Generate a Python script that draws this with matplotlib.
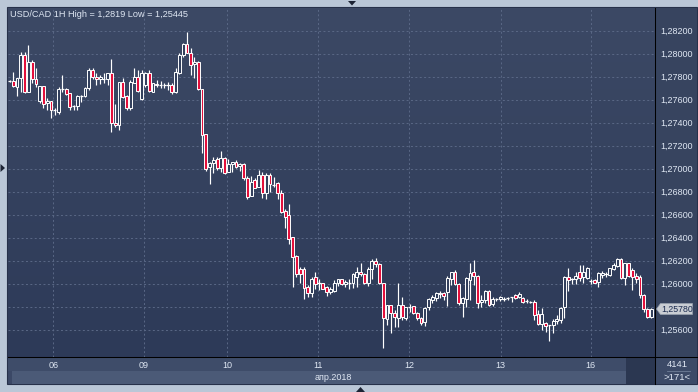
import numpy as np
import matplotlib
matplotlib.use('Agg')
import matplotlib.pyplot as plt
from matplotlib.patches import Rectangle, Polygon
from matplotlib.lines import Line2D
from matplotlib.colors import LinearSegmentedColormap
from matplotlib.transforms import blended_transform_factory

plt.rcParams['font.family'] = ['Liberation Sans', 'DejaVu Sans']

# USD/CAD hourly bars
opens = [
    1.27760, 1.27762, 1.27713, 1.27785, 1.27988, 1.27669, 1.27930, 1.27777, 1.27588, 1.27719,
    1.27568, 1.27588, 1.27516, 1.27495, 1.27690, 1.27693, 1.27655, 1.27545, 1.27545, 1.27626,
    1.27632, 1.27698, 1.27858, 1.27794, 1.27783, 1.27780, 1.27780, 1.27835, 1.27400, 1.27379,
    1.27756, 1.27632, 1.27524, 1.27748, 1.27800, 1.27606, 1.27727, 1.27835, 1.27669, 1.27736,
    1.27722, 1.27727, 1.27722, 1.27725, 1.27669, 1.27829, 1.27988, 1.28084, 1.28009, 1.27907,
    1.27925, 1.27690, 1.27298, 1.27017, 1.27046, 1.27081, 1.27008, 1.27089, 1.26973, 1.27037,
    1.27060, 1.27026, 1.27037, 1.26915, 1.26765, 1.26901, 1.26843, 1.26944, 1.26785, 1.26944,
    1.26865, 1.26872, 1.26785, 1.26631, 1.26596, 1.26402, 1.26240, 1.26124, 1.26124, 1.25967,
    1.25915, 1.26054, 1.26000, 1.26002, 1.25967, 1.25924, 1.25938, 1.26008, 1.26037, 1.25993,
    1.26010, 1.26008, 1.26060, 1.26100, 1.26083, 1.26002, 1.26124, 1.26194, 1.26171, 1.26003,
    1.25693, 1.25815, 1.25742, 1.25698, 1.25815, 1.25698, 1.25796, 1.25806, 1.25748, 1.25698,
    1.25670, 1.25794, 1.25858, 1.25878, 1.25910, 1.25922, 1.25925, 1.26038, 1.26104, 1.25994,
    1.25829, 1.25864, 1.26032, 1.26099, 1.26067, 1.25843, 1.25858, 1.25936, 1.25820, 1.25862,
    1.25864, 1.25872, 1.25873, 1.25879, 1.25899, 1.25887, 1.25872, 1.25849, 1.25845, 1.25843,
    1.25733, 1.25646, 1.25655, 1.25640, 1.25640, 1.25675, 1.25684, 1.25794, 1.26061, 1.26035,
    1.26038, 1.26104, 1.26061, 1.26046, 1.26020, 1.26032, 1.26017, 1.26075, 1.26082, 1.26075,
    1.26125, 1.26157, 1.26212, 1.26046, 1.26177, 1.26119, 1.26067, 1.26061, 1.25901, 1.25777,
    1.25708,
]
highs = [
    1.27770, 1.27843, 1.27790, 1.28017, 1.28017, 1.28075, 1.27945, 1.27872, 1.27719, 1.27719,
    1.27611, 1.27590, 1.27524, 1.27713, 1.27814, 1.27698, 1.27661, 1.27552, 1.27640, 1.27640,
    1.27713, 1.27872, 1.27872, 1.27829, 1.27814, 1.27829, 1.27835, 1.27951, 1.27562, 1.27756,
    1.27785, 1.27640, 1.27771, 1.27872, 1.27858, 1.27858, 1.27843, 1.27858, 1.27748, 1.27771,
    1.27762, 1.27742, 1.27756, 1.27742, 1.27872, 1.28003, 1.28090, 1.28191, 1.28046, 1.27974,
    1.27939, 1.27693, 1.27300, 1.27060, 1.27104, 1.27098, 1.27153, 1.27098, 1.27081, 1.27060,
    1.27075, 1.27052, 1.27046, 1.26936, 1.26936, 1.26915, 1.26988, 1.26973, 1.26959, 1.26959,
    1.26930, 1.26886, 1.26814, 1.26646, 1.26692, 1.26408, 1.26248, 1.26147, 1.26147, 1.25987,
    1.26060, 1.26103, 1.26045, 1.26008, 1.25979, 1.25973, 1.26031, 1.26045, 1.26045, 1.26031,
    1.26045, 1.26089, 1.26147, 1.26176, 1.26089, 1.26147, 1.26211, 1.26220, 1.26177, 1.26009,
    1.25815, 1.25815, 1.25771, 1.26003, 1.25887, 1.25794, 1.25823, 1.25806, 1.25757, 1.25713,
    1.25794, 1.25872, 1.25901, 1.25930, 1.25939, 1.25930, 1.26067, 1.26104, 1.26119, 1.26003,
    1.25881, 1.26061, 1.26177, 1.26206, 1.26075, 1.25901, 1.25945, 1.25945, 1.25887, 1.25872,
    1.25893, 1.25881, 1.25887, 1.25887, 1.25910, 1.25928, 1.25881, 1.25864, 1.25852, 1.25858,
    1.25771, 1.25785, 1.25667, 1.25642, 1.25690, 1.25727, 1.25800, 1.26067, 1.26133, 1.26046,
    1.26104, 1.26162, 1.26162, 1.26148, 1.26038, 1.26044, 1.26104, 1.26110, 1.26104, 1.26133,
    1.26183, 1.26220, 1.26220, 1.26177, 1.26183, 1.26133, 1.26090, 1.26075, 1.25910, 1.25785,
    1.25790,
]
lows = [
    1.27750, 1.27713, 1.27632, 1.27669, 1.27661, 1.27665, 1.27742, 1.27713, 1.27574, 1.27524,
    1.27510, 1.27443, 1.27466, 1.27472, 1.27669, 1.27640, 1.27510, 1.27510, 1.27510, 1.27582,
    1.27626, 1.27684, 1.27777, 1.27727, 1.27736, 1.27742, 1.27727, 1.27321, 1.27365, 1.27336,
    1.27611, 1.27510, 1.27510, 1.27742, 1.27669, 1.27597, 1.27713, 1.27669, 1.27664, 1.27707,
    1.27698, 1.27698, 1.27684, 1.27649, 1.27655, 1.27820, 1.27974, 1.28003, 1.27814, 1.27785,
    1.27684, 1.27139, 1.26982, 1.26863, 1.26965, 1.26988, 1.26973, 1.26950, 1.26973, 1.26973,
    1.27002, 1.26979, 1.26901, 1.26733, 1.26765, 1.26828, 1.26837, 1.26747, 1.26739, 1.26800,
    1.26837, 1.26733, 1.26611, 1.26486, 1.26341, 1.25973, 1.26060, 1.26008, 1.25871, 1.25886,
    1.25880, 1.25958, 1.25944, 1.25950, 1.25895, 1.25909, 1.25930, 1.25979, 1.25985, 1.25973,
    1.25958, 1.25964, 1.25973, 1.26069, 1.25993, 1.25979, 1.26037, 1.26147, 1.25994, 1.25445,
    1.25640, 1.25574, 1.25626, 1.25620, 1.25684, 1.25684, 1.25757, 1.25733, 1.25684, 1.25640,
    1.25632, 1.25771, 1.25829, 1.25849, 1.25872, 1.25858, 1.25806, 1.25988, 1.25988, 1.25814,
    1.25713, 1.25800, 1.25858, 1.25988, 1.25785, 1.25800, 1.25835, 1.25806, 1.25806, 1.25852,
    1.25849, 1.25849, 1.25858, 1.25843, 1.25870, 1.25872, 1.25835, 1.25835, 1.25829, 1.25684,
    1.25640, 1.25597, 1.25582, 1.25504, 1.25568, 1.25649, 1.25655, 1.25698, 1.25939, 1.25997,
    1.25997, 1.26026, 1.26003, 1.26038, 1.25997, 1.26003, 1.25974, 1.26046, 1.26061, 1.26067,
    1.26119, 1.26148, 1.26038, 1.25988, 1.26061, 1.25945, 1.26003, 1.25872, 1.25756, 1.25698,
    1.25700,
]
closes = [
    1.27762, 1.27719, 1.27785, 1.27988, 1.27669, 1.27930, 1.27777, 1.27733, 1.27719, 1.27559,
    1.27588, 1.27510, 1.27510, 1.27693, 1.27693, 1.27646, 1.27539, 1.27540, 1.27632, 1.27632,
    1.27698, 1.27858, 1.27794, 1.27783, 1.27794, 1.27783, 1.27835, 1.27400, 1.27377, 1.27756,
    1.27626, 1.27524, 1.27756, 1.27794, 1.27678, 1.27835, 1.27835, 1.27675, 1.27742, 1.27725,
    1.27727, 1.27722, 1.27725, 1.27669, 1.27838, 1.27988, 1.28084, 1.28009, 1.27901, 1.27925,
    1.27690, 1.27290, 1.26997, 1.27046, 1.27075, 1.27008, 1.27089, 1.26965, 1.27037, 1.27060,
    1.27017, 1.27040, 1.26915, 1.26756, 1.26886, 1.26834, 1.26944, 1.26785, 1.26944, 1.26863,
    1.26858, 1.26785, 1.26625, 1.26582, 1.26385, 1.26234, 1.26080, 1.26080, 1.25964, 1.25915,
    1.26045, 1.25993, 1.26005, 1.25958, 1.25930, 1.25950, 1.26008, 1.26037, 1.25993, 1.26016,
    1.26008, 1.26080, 1.26103, 1.26080, 1.26002, 1.26124, 1.26199, 1.26170, 1.26003, 1.25698,
    1.25815, 1.25742, 1.25707, 1.25815, 1.25713, 1.25794, 1.25800, 1.25742, 1.25698, 1.25655,
    1.25785, 1.25864, 1.25881, 1.25916, 1.25922, 1.25893, 1.26046, 1.26104, 1.25994, 1.25829,
    1.25872, 1.26046, 1.26090, 1.26067, 1.25835, 1.25858, 1.25936, 1.25814, 1.25864, 1.25866,
    1.25881, 1.25868, 1.25877, 1.25883, 1.25878, 1.25910, 1.25843, 1.25845, 1.25841, 1.25727,
    1.25649, 1.25736, 1.25632, 1.25636, 1.25675, 1.25690, 1.25785, 1.26061, 1.26032, 1.26038,
    1.26067, 1.26046, 1.26104, 1.26133, 1.26026, 1.26009, 1.26090, 1.26090, 1.26086, 1.26133,
    1.26162, 1.26212, 1.26046, 1.26177, 1.26067, 1.26061, 1.26044, 1.25901, 1.25777, 1.25707,
    1.25780,
]

day_labels = ['06', '09', '10', '11', '12', '13', '16']
day_bars = [11.6, 35.6, 57.7, 81.8, 105.9, 130.1, 154.0]
price_ticks = [1.256, 1.258, 1.260, 1.262, 1.264, 1.266, 1.268, 1.270,
               1.272, 1.274, 1.276, 1.278, 1.280, 1.282]
title = 'USD/CAD 1H High = 1,2819 Low = 1,25445'
month_label = 'апр.2018'
last_price = 1.25780
corner_top, corner_bottom = '4141', '>171<'

W, H = 698, 392
BG_TOP, BG_BOT = '#3c4965', '#2d3a58'
GRID = '#5a6886'
TXT = '#dfe7f3'
RED = '#e3103c'

fig = plt.figure(figsize=(W / 100, H / 100), dpi=100)
fig.patch.set_facecolor('#bac7d7')


def frac(x0, y0, x1, y1):
    # pixel box (y down) -> figure fraction [l, b, w, h]
    return [x0 / W, 1 - y1 / H, (x1 - x0) / W, (y1 - y0) / H]


def box(x0, y0, x1, y1, color, ec='none', lw=0, z=0):
    l, b, w, h = frac(x0, y0, x1, y1)
    fig.add_artist(Rectangle((l, b), w, h, transform=fig.transFigure,
                             facecolor=color, edgecolor=ec, linewidth=lw, zorder=z))


def fline(x0, y0, x1, y1, color='black', lw=0.75, z=5):
    fig.add_artist(Line2D([x0 / W, x1 / W], [1 - y0 / H, 1 - y1 / H],
                          transform=fig.transFigure, color=color, lw=lw, zorder=z))


def ftri(pts, color='#1c2334'):
    fig.add_artist(Polygon([(x / W, 1 - y / H) for x, y in pts], closed=True,
                           transform=fig.transFigure, facecolor=color, edgecolor='none'))


# frame and panels
box(7, 7, 697, 384, '#3b4866', ec='#27314a', lw=0.8)
box(655, 8, 697, 357, '#37445f')
box(8, 357, 655, 371, '#3e4c69')
box(12, 371, 626, 383.5, '#4b5a77')
box(626, 357, 655, 383.5, '#2b3751')
box(655, 357, 697, 383.5, '#3c4a67')

ax = fig.add_axes(frac(8, 8, 655.3, 357))
cmap = LinearSegmentedColormap.from_list('bg', [BG_TOP, BG_BOT])
ax.imshow(np.linspace(0, 1, 256).reshape(-1, 1), cmap=cmap, extent=[0, 1, 0, 1],
          transform=ax.transAxes, aspect='auto', zorder=0)
ax.set_xlim(-0.40, 171.07)
ax.set_ylim(1.253625, 1.283974)
for s in ax.spines.values():
    s.set_visible(False)

for p in price_ticks:
    ax.axhline(p, color=GRID, lw=0.7, ls=(0, (2, 2.5)), zorder=1)
for d in day_bars:
    ax.axvline(d, color=GRID, lw=0.7, ls=(0, (2, 2.5)), zorder=1)

# candles
x = np.arange(len(opens))
o, h, l, c = map(np.array, (opens, highs, lows, closes))
ax.vlines(x, l, h, color='white', lw=0.85, zorder=2)
min_body = 0.00009
for i in range(len(x)):
    lo, hi = min(o[i], c[i]), max(o[i], c[i])
    if hi - lo < min_body:
        ax.hlines((lo + hi) / 2, i - 0.42, i + 0.42, color='white', lw=0.9, zorder=3)
        continue
    fc = RED if c[i] < o[i] else '#33405d'
    ax.add_patch(Rectangle((i - 0.38, lo), 0.76, hi - lo, facecolor=fc,
                           edgecolor='white', linewidth=0.7, zorder=3))

# right price scale (the label under the current-price marker is hidden)
ax.yaxis.tick_right()
ax.set_yticks(price_ticks)
ax.set_yticklabels(['' if abs(p - last_price) < 0.0006 else f'{p:.5f}'.replace('.', ',')
                    for p in price_ticks])
ax.tick_params(axis='y', length=0, pad=3.5, labelsize=6.5, labelcolor=TXT)
ax.set_xticks([])

ax.text(2 / 647.3, 1 - 6.5 / 349, title, transform=ax.transAxes, ha='left', va='center',
        fontsize=6.6, color=TXT)

# date labels in bottom strip
tr = blended_transform_factory(ax.transData, fig.transFigure)
for lab, d in zip(day_labels, day_bars):
    ax.text(d, 1 - 365.5 / H, lab, transform=tr, ha='center', va='center',
            fontsize=6.5, color=TXT, clip_on=False)
fig.text(315 / W, 1 - 377.5 / H, month_label, ha='left', va='center', fontsize=6.5, color=TXT)

# corner counters
fig.text(677 / W, 1 - 364.5 / H, corner_top, ha='center', va='center', fontsize=6.8, color=TXT)
fig.text(677 / W, 1 - 377.5 / H, corner_bottom, ha='center', va='center', fontsize=6.8, color=TXT)
fline(667, 371, 690, 371, color='#6f7e98', lw=0.6)

# current price marker
yp = ax.transData.transform((0, last_price))[1]
fig.add_artist(Polygon([(656.5 / W, yp / H), (660.5 / W, (yp + 5.5) / H), (692.5 / W, (yp + 5.5) / H),
                        (692.5 / W, (yp - 5.5) / H), (660.5 / W, (yp - 5.5) / H)],
                       closed=True, transform=fig.transFigure, facecolor='#c9cdd3',
                       edgecolor='#9aa3b0', linewidth=0.5, zorder=6))
fig.text(661 / W, yp / H, f'{last_price:.5f}'.replace('.', ','), ha='left', va='center',
         fontsize=6.3, color='#1b2b4f', zorder=7)

# separator lines
fline(655.3, 8, 655.3, 383.5)
fline(8, 357, 697, 357)

# small frame arrows
ftri([(348, 1), (356, 1), (352, 5.5)])
ftri([(356, 392), (365, 392), (360.5, 387)])
ftri([(0.5, 164), (0.5, 172), (5, 168)])

fig.savefig('out.png', dpi=100, facecolor=fig.get_facecolor())
